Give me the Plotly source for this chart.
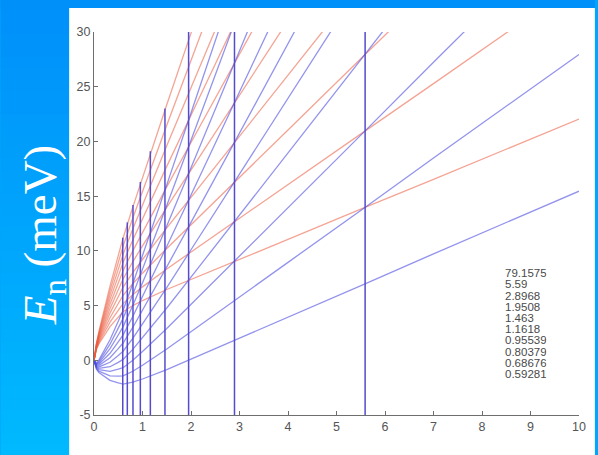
import plotly.graph_objects as go

# Magnetic field grid (T) at which level energies were read
B = [0, 0.05, 0.1, 0.2, 0.33, 0.5, 0.6, 0.8, 1.0, 1.5, 2, 3, 4, 5.6, 7, 10]

# Upper (red) branch levels, k = 1..10 (meV), read until they leave the top
red_levels = [
    [0, 0.99, 1.49, 2.18, 3.07, 3.94, 4.43, 5.0, 5.46, 6.47, 7.4, 9.23, 11.05, 13.99, 16.53, 22.05],
    [0, 1.06, 1.61, 2.43, 3.48, 4.56, 5.18, 6.0, 6.71, 8.35, 9.9, 12.98, 16.05, 20.99, 25.28, 34.55],
    [0, 1.12, 1.74, 2.68, 3.89, 5.19, 5.93, 7.0, 7.96, 10.22, 12.4, 16.73, 21.05, 27.99, 34.03],
    [0, 1.18, 1.86, 2.93, 4.31, 5.81, 6.68, 8.0, 9.21, 12.1, 14.9, 20.48, 26.05, 34.99],
    [0, 1.24, 1.99, 3.18, 4.72, 6.44, 7.43, 9.0, 10.46, 13.97, 17.4, 24.23, 31.05],
    [0, 1.31, 2.11, 3.43, 5.13, 7.06, 8.18, 10.0, 11.71, 15.85, 19.9, 27.98, 36.05],
    [0, 1.37, 2.24, 3.68, 5.54, 7.69, 8.93, 11.0, 12.96, 17.72, 22.4, 31.73],
    [0, 1.43, 2.36, 3.93, 5.96, 8.31, 9.68, 12.0, 14.21, 19.6, 24.9, 35.48],
    [0, 1.49, 2.49, 4.18, 6.37, 8.94, 10.43, 13.0, 15.46, 21.47, 27.4, 39.23],
    [0, 1.56, 2.61, 4.43, 6.78, 9.56, 11.18, 14.0, 16.71, 23.35, 29.9, 42.98],
]

# Lower (blue) branch levels, k = 1..10 (meV)
blue_levels = [
    [0, -0.81, -1.11, -1.43, -1.83, -2.06, -2.18, -2.0, -1.71, -0.85, 0.1, 2.03, 3.95, 7.01, 9.73, 15.45],
    [0, -0.74, -0.99, -1.18, -1.42, -1.44, -1.43, -1.0, -0.46, 1.03, 2.6, 5.78, 8.95, 14.01, 18.48, 27.95],
    [0, -0.68, -0.86, -0.93, -1.01, -0.81, -0.68, 0.0, 0.8, 2.9, 5.1, 9.53, 13.95, 21.01, 27.23, 40.45],
    [0, -0.62, -0.74, -0.68, -0.59, -0.19, 0.08, 1.0, 2.05, 4.78, 7.6, 13.28, 18.95, 28.01, 35.98],
    [0, -0.56, -0.61, -0.43, -0.18, 0.44, 0.83, 2.0, 3.3, 6.65, 10.1, 17.03, 23.95, 35.01],
    [0, -0.49, -0.49, -0.18, 0.23, 1.06, 1.58, 3.0, 4.55, 8.53, 12.6, 20.78, 28.95, 42.01],
    [0, -0.43, -0.36, 0.08, 0.64, 1.69, 2.33, 4.0, 5.8, 10.4, 15.1, 24.53, 33.95],
    [0, -0.37, -0.24, 0.33, 1.06, 2.31, 3.08, 5.0, 7.05, 12.28, 17.6, 28.28, 38.95],
    [0, -0.31, -0.11, 0.58, 1.47, 2.94, 3.83, 6.0, 8.3, 14.15, 20.1, 32.03],
    [0, -0.24, 0.01, 0.83, 1.88, 3.56, 4.58, 7.0, 9.55, 16.03, 22.6, 35.78],
]

# Coincidence fields (T) listed on the chart, and top of each vertical marker (meV)
coincidence_B = [79.1575, 5.59, 2.8968, 1.9508, 1.463, 1.1618, 0.95539, 0.80379, 0.68676, 0.59281]
marker_top = [30, 30, 30, 30, 23.0, 19.1, 16.3, 14.2, 12.6, 11.2]
marker_bottom = -5

x_ticks = [0, 1, 2, 3, 4, 5, 6, 7, 8, 9, 10]
y_ticks = [-5, 0, 5, 10, 15, 20, 25, 30]
y_tick_text = ["-5", "0", "5", "10", "15", "20", "25", "30"]

fig = go.Figure()

for ys in red_levels:
    fig.add_trace(go.Scatter(x=B[:len(ys)], y=ys, mode="lines",
                             line=dict(color="rgba(235,90,60,0.55)", width=1.3),
                             showlegend=False, hoverinfo="skip"))
for ys in blue_levels:
    fig.add_trace(go.Scatter(x=B[:len(ys)], y=ys, mode="lines",
                             line=dict(color="rgba(75,75,225,0.6)", width=1.3),
                             showlegend=False, hoverinfo="skip"))
for bc, top in zip(coincidence_B, marker_top):
    fig.add_trace(go.Scatter(x=[bc, bc], y=[marker_bottom, top], mode="lines",
                             line=dict(color="rgb(85,75,205)", width=1.5),
                             showlegend=False, hoverinfo="skip"))

# Column of coincidence values
for i, v in enumerate(coincidence_B):
    fig.add_annotation(x=8.45, y=8.0 - 1.024 * i, xref="x", yref="y",
                       text=str(v), showarrow=False, xanchor="left", yanchor="middle",
                       height=11, borderpad=0, align="left", valign="middle",
                       font=dict(family="Liberation Sans, Arial", size=11.5, color="#4a4a4a"))

# Slide background: blue gradient strip on the left and top
shapes = []
W, H = 598, 455
L, R, T, Bm = 94, 16, 32, 40
pw, ph = W - L - R, H - T - Bm
def px2x(px):
    return (px - L) / pw
def px2y(py):
    return (H - Bm - py) / ph
nb = 40
for i in range(nb):
    y0 = H * i / nb
    y1 = H * (i + 1) / nb + 0.5
    f = (i + 0.5) / nb
    col = "rgb(0,%d,%d)" % (int(144 + 42 * f), int(250 + 5 * f))
    shapes.append(dict(type="rect", xref="paper", yref="paper",
                       x0=px2x(0), x1=px2x(69), y0=px2y(y1), y1=px2y(y0),
                       fillcolor=col, line=dict(width=0), layer="below"))
shapes.append(dict(type="rect", xref="paper", yref="paper",
                   x0=px2x(0), x1=px2x(W), y0=px2y(8), y1=px2y(0),
                   fillcolor="rgb(0,144,250)", line=dict(width=0), layer="below"))
shapes.append(dict(type="rect", xref="paper", yref="paper",
                   x0=px2x(69), x1=px2x(W), y0=px2y(H), y1=px2y(8),
                   fillcolor="white", line=dict(width=0), layer="below"))

fig.add_annotation(x=px2x(43), y=px2y(235), xref="paper", yref="paper",
                   text="<i>E</i><sub>n</sub> (meV)", textangle=-90, showarrow=False,
                   xanchor="center", yanchor="middle",
                   font=dict(family="Liberation Serif, Times New Roman", size=47, color="white"))

axis_common = dict(showgrid=False, zeroline=False, showline=True, linecolor="rgb(110,110,110)",
                   linewidth=1, ticks="inside", ticklen=4, tickcolor="rgb(110,110,110)",
                   tickfont=dict(family="Liberation Sans, Arial", size=12.5, color="#555"),
                   mirror=False)
fig.update_xaxes(range=[0, 10], tickvals=x_ticks, **axis_common)
fig.update_yaxes(range=[-5, 30], tickvals=y_ticks, ticktext=y_tick_text, **axis_common)

fig.update_layout(width=W, height=H, margin=dict(l=L, r=R, t=T, b=Bm),
                  paper_bgcolor="rgb(0,165,252)", plot_bgcolor="white",
                  shapes=shapes, showlegend=False)

fig.write_html("out.html")
